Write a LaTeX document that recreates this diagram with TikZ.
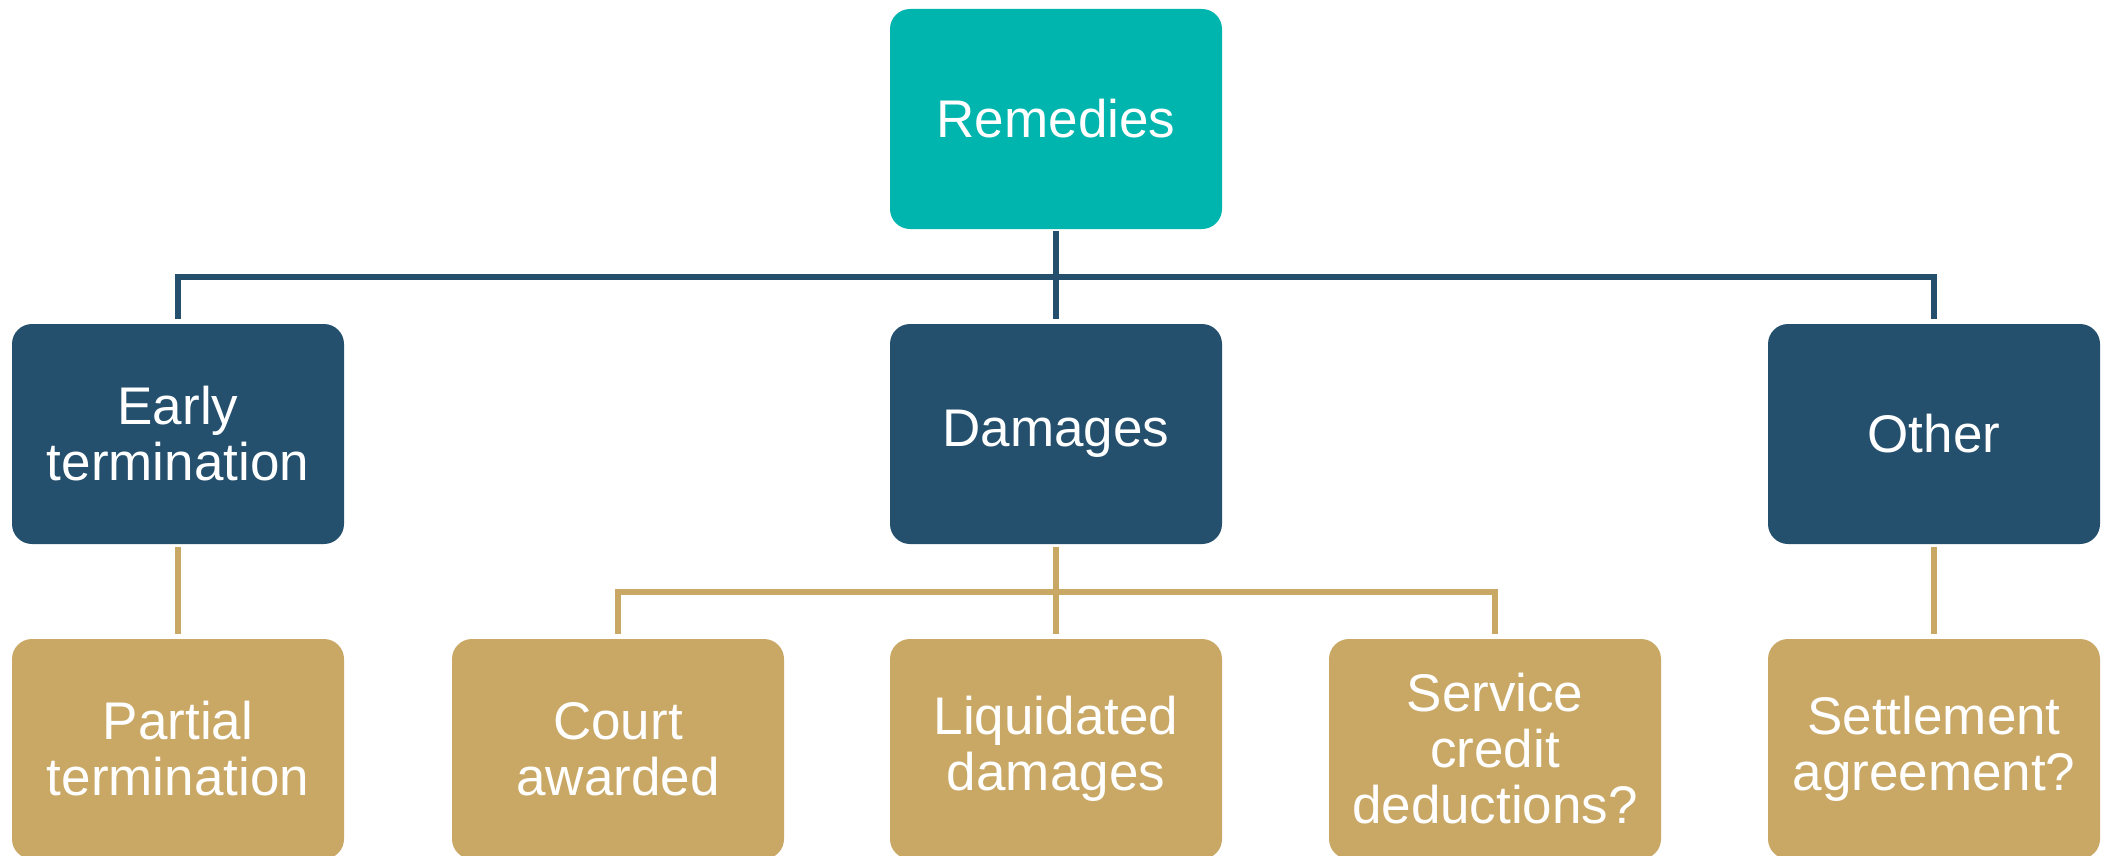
\documentclass[tikz,border=0pt]{standalone}
\usepackage{fontspec}
\setmainfont{Liberation Sans}
\definecolor{teal}{RGB}{0,181,173}
\definecolor{navy}{RGB}{36,80,110}
\definecolor{gold}{RGB}{201,168,102}
\begin{document}
\begin{tikzpicture}[x=1pt,y=1pt,
  box/.style={rectangle, rounded corners=20pt, minimum width=332pt, minimum height=220pt,
    text=white, align=center, inner sep=0pt, font=\fontsize{53}{56}\selectfont},
  topbox/.style={box, fill=teal},
  midbox/.style={box, fill=navy},
  lowbox/.style={box, fill=gold},
  navyline/.style={draw=navy, line width=5.3pt},
  goldline/.style={draw=gold, line width=5.3pt}]
\useasboundingbox (0,0) rectangle (2109,-856);
\node[topbox] (rem) at (1056,-119) {Remedies};
\node[midbox] (early) at (178,-434) {Early\\termination};
\node[midbox] (dam) at (1056,-434) {Damages};
\node[midbox] (oth) at (1934,-434) {Other};
\node[lowbox] (part) at (178,-749) {Partial\\termination};
\node[lowbox] (court) at (618,-749) {Court\\awarded};
\node[lowbox] (liq) at (1056,-749) {Liquidated\\damages};
\node[lowbox] (svc) at (1495,-749) {Service\\credit\\deductions?};
\node[lowbox] (sett) at (1934,-749) {Settlement\\agreement?};
\coordinate (hubA) at (1056,-277);
\coordinate (hubB) at (1056,-592);
\draw[navyline] ([yshift=-2]rem.south) -- ([yshift=5]dam.north);
\draw[navyline] ([yshift=5]early.north) |- (hubA) -| ([yshift=5]oth.north);
\draw[goldline] ([yshift=-3]dam.south) -- ([yshift=5]liq.north);
\draw[goldline] ([yshift=5]court.north) |- (hubB) -| ([yshift=5]svc.north);
\draw[goldline] ([yshift=-3]early.south) -- ([yshift=5]part.north);
\draw[goldline] ([yshift=-3]oth.south) -- ([yshift=5]sett.north);
\end{tikzpicture}
\end{document}
